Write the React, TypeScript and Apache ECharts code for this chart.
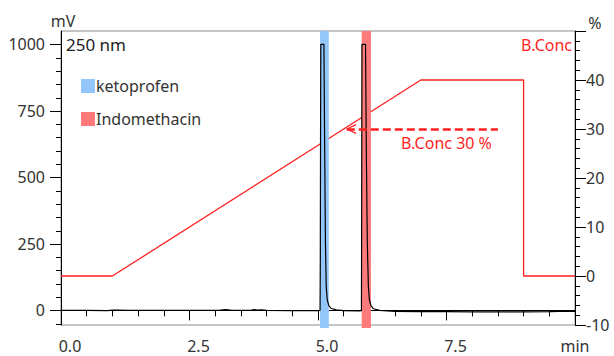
import React, { useEffect, useRef } from 'react';
import * as echarts from 'echarts';

// Chromatogram (250 nm): retention time (min) and signal (mV)
const timeMin = [0, 0.5, 0.9, 1.0, 1.1, 1.3, 2.0, 2.6, 3.1, 3.2, 3.3, 3.7, 3.75, 3.82, 3.9, 4.0, 4.5, 5.0, 5.04, 5.045, 5.05, 5.055, 5.115, 5.13, 5.145, 5.16, 5.18, 5.21, 5.25, 5.35, 5.5, 5.8, 5.845, 5.85, 5.855, 5.925, 5.94, 5.96, 5.98, 6.0, 6.03, 6.08, 6.2, 6.5, 7.0, 7.5, 8.0, 8.5, 9.0, 9.5, 9.7, 10.0];
const signalMv = [0, 0, -1, 1, 1, 0, 0, 0, 1, 3, 1, 0, 3, 1, 2, 0, -1, -1, 0, 200, 700, 1000, 1000, 600, 250, 90, 40, 18, 8, 2, -1, -2, -1, 400, 1000, 1000, 600, 250, 90, 40, 18, 6, 0, -4, -5, -5, -6, -6, -6, -5, -4, -4];

// Gradient program B.Conc (%)
const gradTime = [0, 1, 7, 9, 9, 10];
const gradConc = [0, 0, 40, 40, 0, 0];

// Peak windows (min)
const ketoprofenWindow = [5.04, 5.21];
const indomethacinWindow = [5.85, 6.03];

// Annotation: B.Conc 30 %
const arrowTip = [5.56, 30];
const arrowTail = [8.5, 30];
const arrowHead = [[5.74, 30.9], [5.56, 30], [5.74, 29.1]];

// Axis ticks
const leftLabelValues = [0, 250, 500, 750, 1000];
const leftMinorValues = [-50, 50, 100, 150, 200, 300, 350, 400, 450, 550, 600, 650, 700, 800, 850, 900, 950];

const FONT = 'Noto Sans';
const TXT = '#333';
const RED = '#ff1f1f';
const BLUE_BAR = '#93c6fb';
const RED_BAR = '#ff7b7b';

export default function App() {
  const ref = useRef<HTMLDivElement>(null);
  useEffect(() => {
    if (!ref.current) return;
    const chart = echarts.init(ref.current, undefined, { renderer: 'svg' });
    const rectRender = (color: string) => (params: any, api: any) => {
      const x0 = api.coord([api.value(0), 0])[0];
      const x1 = api.coord([api.value(1), 0])[0];
      const cs = params.coordSys;
      return {
        type: 'rect',
        shape: { x: x0, y: cs.y, width: x1 - x0, height: cs.height + 3 },
        style: { fill: color },
      };
    };
    const texts: any[] = [
      { type: 'text', id: 't-mv', x: 63, y: 21, style: { text: 'mV', fill: TXT, fontSize: 16, fontFamily: FONT, align: 'center', verticalAlign: 'middle' } },
      { type: 'text', id: 't-pct', x: 595, y: 23, style: { text: '%', fill: TXT, fontSize: 16, fontFamily: FONT, align: 'center', verticalAlign: 'middle' } },
      { type: 'text', id: 't-min', x: 575, y: 346, style: { text: 'min', fill: TXT, fontSize: 16, lineHeight: 16, fontFamily: FONT, align: 'center', verticalAlign: 'middle' } },
      { type: 'text', id: 't-nm', x: 66, y: 44, style: { text: '250 nm', fill: '#222', fontSize: 17, fontFamily: FONT, align: 'left', verticalAlign: 'middle' } },
      { type: 'text', id: 't-bc', x: 572, y: 45, style: { text: 'B.Conc', fill: RED, fontSize: 16, fontFamily: FONT, align: 'right', verticalAlign: 'middle' } },
    ];
    chart.setOption({
      animation: false,
      textStyle: { fontFamily: FONT },
      grid: { left: 61, right: 39, top: 31, bottom: 31, show: true, borderColor: '#8a8a8a', borderWidth: 1, backgroundColor: 'transparent' },
      legend: {
        left: 76, top: 73, orient: 'vertical', itemWidth: 14, itemHeight: 14, itemGap: 17,
        icon: 'rect', data: ['ketoprofen', 'Indomethacin'],
        textStyle: { fontSize: 16, color: TXT, fontFamily: FONT, padding: [0, 0, 0, -4] },
        selectedMode: false,
      },
      xAxis: {
        type: 'value', min: 0, max: 10, interval: 2.5,
        axisLine: { show: true, lineStyle: { color: '#000', width: 1 } },
        axisTick: { show: true, length: 10, lineStyle: { color: '#000' } },
        minorTick: { show: true, splitNumber: 5, length: 6, lineStyle: { color: '#000' } },
        splitLine: { show: false },
        axisLabel: {
          fontSize: 16, lineHeight: 16, color: TXT, margin: 13, align: 'center', padding: [0, 0, 0, 18],
          formatter: (v: number) => (v === 10 ? '' : v.toFixed(1)),
        },
      },
      yAxis: [
        {
          type: 'value', min: -55, max: 1050, position: 'left',
          axisLine: { show: true, lineStyle: { color: '#000', width: 1 } },
          axisTick: { show: true, length: 11, customValues: leftLabelValues, lineStyle: { color: '#000' } },
          axisLabel: { fontSize: 16, color: TXT, margin: 16, customValues: leftLabelValues, formatter: (v: number) => String(v) },
          splitLine: { show: false },
        },
        {
          type: 'value', min: -10, max: 50, interval: 10, position: 'right',
          axisLine: { show: true, lineStyle: { color: '#000', width: 1 } },
          axisTick: { show: true, length: 11, lineStyle: { color: '#000' } },
          minorTick: { show: true, splitNumber: 5, length: 5, lineStyle: { color: '#000' } },
          axisLabel: { fontSize: 16, color: TXT, margin: 11, formatter: (v: number) => (v === 50 ? '' : String(v)) },
          splitLine: { show: false },
        },
      ],
      graphic: texts,
      series: [
        {
          name: 'B.Conc', type: 'line', xAxisIndex: 0, yAxisIndex: 1, z: 1,
          data: gradTime.map((t, i) => [t, gradConc[i]]),
          showSymbol: false, symbol: 'none',
          lineStyle: { color: RED, width: 1.3 },
          itemStyle: { color: RED },
          markLine: {
            silent: true, symbol: ['none', 'none'],
            lineStyle: { color: RED, width: 2.5, type: [8, 4] },
            label: { show: true, position: 'insideEndBottom', formatter: 'B.Conc 30 %', color: RED, fontSize: 16, fontFamily: FONT, distance: 6 },
            data: [[{ coord: arrowTip }, { coord: arrowTail }]],
          },
        },
        {
          name: 'arrowhead', type: 'line', xAxisIndex: 0, yAxisIndex: 1, z: 1,
          data: arrowHead, symbol: 'none', lineStyle: { color: RED, width: 1.2 },
        },
        {
          name: 'ketoprofen', type: 'custom', xAxisIndex: 0, yAxisIndex: 0, z: 2,
          itemStyle: { color: BLUE_BAR },
          encode: { x: [0, 1] },
          data: [ketoprofenWindow],
          renderItem: rectRender(BLUE_BAR),
        },
        {
          name: 'Indomethacin', type: 'custom', xAxisIndex: 0, yAxisIndex: 0, z: 2,
          itemStyle: { color: RED_BAR },
          encode: { x: [0, 1] },
          data: [indomethacinWindow],
          renderItem: rectRender(RED_BAR),
        },
        {
          name: '250 nm', type: 'line', xAxisIndex: 0, yAxisIndex: 0, z: 3,
          data: timeMin.map((t, i) => [t, signalMv[i]]),
          symbol: 'none', lineStyle: { color: '#000', width: 1.2 },
        },
      ],
    });
    // Minor ticks of the left (mV) axis, placed through the axis scale
    const x0 = chart.convertToPixel({ xAxisIndex: 0 }, 0) as number;
    const ticks = leftMinorValues.map((v, i) => {
      const y = Math.round(chart.convertToPixel({ yAxisIndex: 0 }, v) as number) + 0.5;
      return { type: 'line', id: 'mt' + i, silent: true, z: 10, shape: { x1: x0 - 5, y1: y, x2: x0, y2: y }, style: { stroke: '#000', lineWidth: 1 } };
    });
    chart.setOption({ graphic: [...texts, ...ticks] });
    return () => chart.dispose();
  }, []);
  return <div ref={ref} style={{ position: 'fixed', left: 0, top: 0, width: 614, height: 356, background: '#fff' }} />;
}
